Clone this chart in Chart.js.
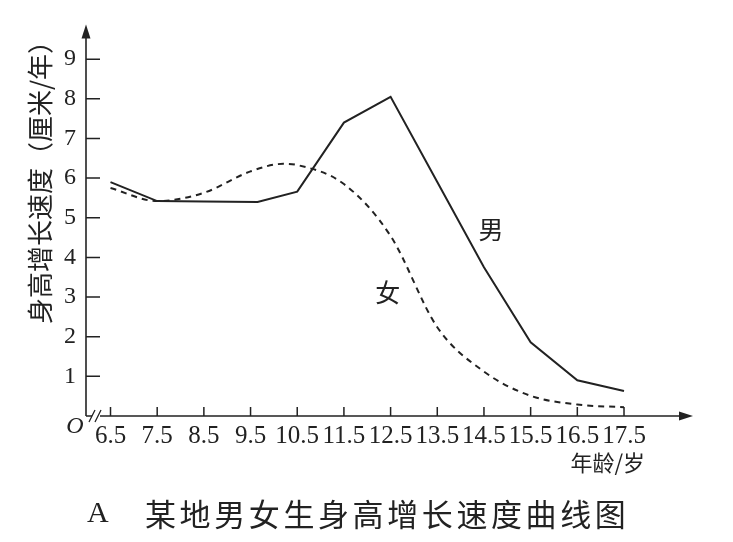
<!DOCTYPE html>
<html>
<head>
<meta charset="utf-8">
<script src="https://cdn.jsdelivr.net/npm/chart.js@4/dist/chart.umd.min.js"></script>
<style>
  html, body { margin: 0; padding: 0; background: #fff; }
  #wrap { width: 733px; height: 542px; }
</style>
</head>
<body>
<div id="wrap"><canvas id="chart"></canvas></div>
<script>
// tick labels
const ageTicks = [6.5, 7.5, 8.5, 9.5, 10.5, 11.5, 12.5, 13.5, 14.5, 15.5, 16.5, 17.5];
const rateTicks = [1, 2, 3, 4, 5, 6, 7, 8, 9];

// 男 (solid line)
const maleAges = [6.5, 7.5, 8.5, 9.65, 10.5, 11.5, 12.5, 13.5, 14.5, 15.5, 16.5, 17.5];
const maleRate = [5.9, 5.42, 5.41, 5.4, 5.66, 7.4, 8.05, 5.9, 3.75, 1.86, 0.9, 0.63];

// 女 (dashed curve)
const femaleAges = [6.5, 7.5, 8.5, 9.5, 10.2, 10.5, 11.5, 12.5, 13.5, 14.5, 15.5, 16.5, 17.5];
const femaleRate = [5.75, 5.42, 5.63, 6.17, 6.36, 6.33, 5.85, 4.54, 2.24, 1.12, 0.51, 0.29, 0.22];

const ink = '#222';
const serif = '"Liberation Serif", "DejaVu Serif", serif';
const cjk = '"Noto Sans CJK SC", sans-serif';

const toPoints = (xs, ys) => xs.map((v, i) => ({ x: v, y: ys[i] }));

// axes with arrows, inward ticks, break mark and the loose texts
const axisDecor = {
    id: 'axisDecor',
    afterDraw(chart) {
        const { ctx, chartArea: a, scales: { x, y } } = chart;
        ctx.save();
        ctx.strokeStyle = ink;
        ctx.fillStyle = ink;
        ctx.lineWidth = 1.6;

        // y axis + arrow
        ctx.beginPath();
        ctx.moveTo(a.left, a.bottom);
        ctx.lineTo(a.left, a.top + 10);
        ctx.stroke();
        ctx.beginPath();
        ctx.moveTo(a.left, a.top);
        ctx.lineTo(a.left - 4.5, a.top + 14);
        ctx.lineTo(a.left + 4.5, a.top + 14);
        ctx.closePath();
        ctx.fill();

        // x axis with break "//" + arrow
        ctx.beginPath();
        ctx.moveTo(a.left, a.bottom);
        ctx.lineTo(a.left + 6, a.bottom);
        ctx.moveTo(a.left + 14, a.bottom);
        ctx.lineTo(a.right - 10, a.bottom);
        ctx.stroke();
        ctx.lineWidth = 1.3;
        ctx.beginPath();
        ctx.moveTo(a.left + 3, a.bottom + 6);
        ctx.lineTo(a.left + 9, a.bottom - 6);
        ctx.moveTo(a.left + 9, a.bottom + 6);
        ctx.lineTo(a.left + 15, a.bottom - 6);
        ctx.stroke();
        ctx.beginPath();
        ctx.moveTo(a.right, a.bottom);
        ctx.lineTo(a.right - 14, a.bottom - 4.5);
        ctx.lineTo(a.right - 14, a.bottom + 4.5);
        ctx.closePath();
        ctx.fill();

        // inward tick marks
        ctx.lineWidth = 1.5;
        ctx.beginPath();
        rateTicks.forEach(v => {
            const py = y.getPixelForValue(v);
            ctx.moveTo(a.left, py);
            ctx.lineTo(a.left + 14, py);
        });
        ageTicks.forEach(v => {
            const px = x.getPixelForValue(v);
            ctx.moveTo(px, a.bottom);
            ctx.lineTo(px, a.bottom - 9);
        });
        ctx.stroke();

        // origin letter
        ctx.textAlign = 'center';
        ctx.textBaseline = 'middle';
        ctx.font = 'italic 24px ' + serif;
        ctx.fillText('O', a.left - 11, a.bottom + 11);

        // series names, placed in data space
        ctx.font = '25px ' + cjk;
        ctx.fillText('男', x.getPixelForValue(14.65), y.getPixelForValue(4.71));
        ctx.fillText('女', x.getPixelForValue(12.44), y.getPixelForValue(3.11));

        // x axis name
        ctx.textAlign = 'right';
        ctx.font = '22px ' + cjk;
        ctx.fillText('年龄/岁', x.getPixelForValue(17.5) + 21, a.bottom + 47);

        // y axis name, vertical
        ctx.save();
        ctx.translate(40, 176);
        ctx.rotate(-Math.PI / 2);
        ctx.textAlign = 'center';
        ctx.font = '26px ' + cjk;
        ctx.fillText('身高增长速度（厘米/年）', 0, 0);
        ctx.restore();

        // caption
        ctx.textAlign = 'left';
        ctx.font = '30px ' + serif;
        ctx.fillText('A', 87, 514);
        ctx.font = '31px ' + cjk;
        ctx.letterSpacing = '3.6px';
        ctx.fillText('某地男女生身高增长速度曲线图', 145, 514);
        ctx.restore();
    }
};

const chart = new Chart(document.getElementById('chart'), {
    type: 'line',
    data: {
        datasets: [
            {
                label: '男',
                data: toPoints(maleAges, maleRate),
                borderColor: ink,
                borderWidth: 2,
                pointRadius: 0,
                tension: 0
            },
            {
                label: '女',
                data: toPoints(femaleAges, femaleRate),
                borderColor: ink,
                borderWidth: 2,
                borderDash: [6, 5],
                pointRadius: 0,
                cubicInterpolationMode: 'monotone'
            }
        ]
    },
    options: {
        responsive: true,
        maintainAspectRatio: false,
        animation: false,
        events: [],
        layout: { padding: { top: 22, right: 40, left: 0, bottom: 0 } },
        plugins: {
            legend: { display: false },
            title: { display: false },
            tooltip: { enabled: false }
        },
        scales: {
            x: {
                type: 'linear',
                min: 5.975,
                max: 18.978,
                grid: { display: false, drawTicks: false },
                border: { display: false },
                afterBuildTicks: s => { s.ticks = ageTicks.map(v => ({ value: v })); },
                afterFit: s => { s.height = 126; },
                ticks: {
                    autoSkip: false,
                    maxRotation: 0,
                    padding: 5,
                    color: ink,
                    font: { family: serif, size: 25 },
                    callback: v => v.toFixed(1)
                }
            },
            y: {
                min: 0,
                max: 9.877,
                grid: { display: false, drawTicks: false },
                border: { display: false },
                afterBuildTicks: s => { s.ticks = rateTicks.map(v => ({ value: v })); },
                afterFit: s => { s.width = 86; },
                ticks: {
                    padding: 10,
                    color: ink,
                    font: { family: serif, size: 24 },
                    callback: v => String(v)
                }
            }
        }
    },
    plugins: [axisDecor]
});
</script>
</body>
</html>
